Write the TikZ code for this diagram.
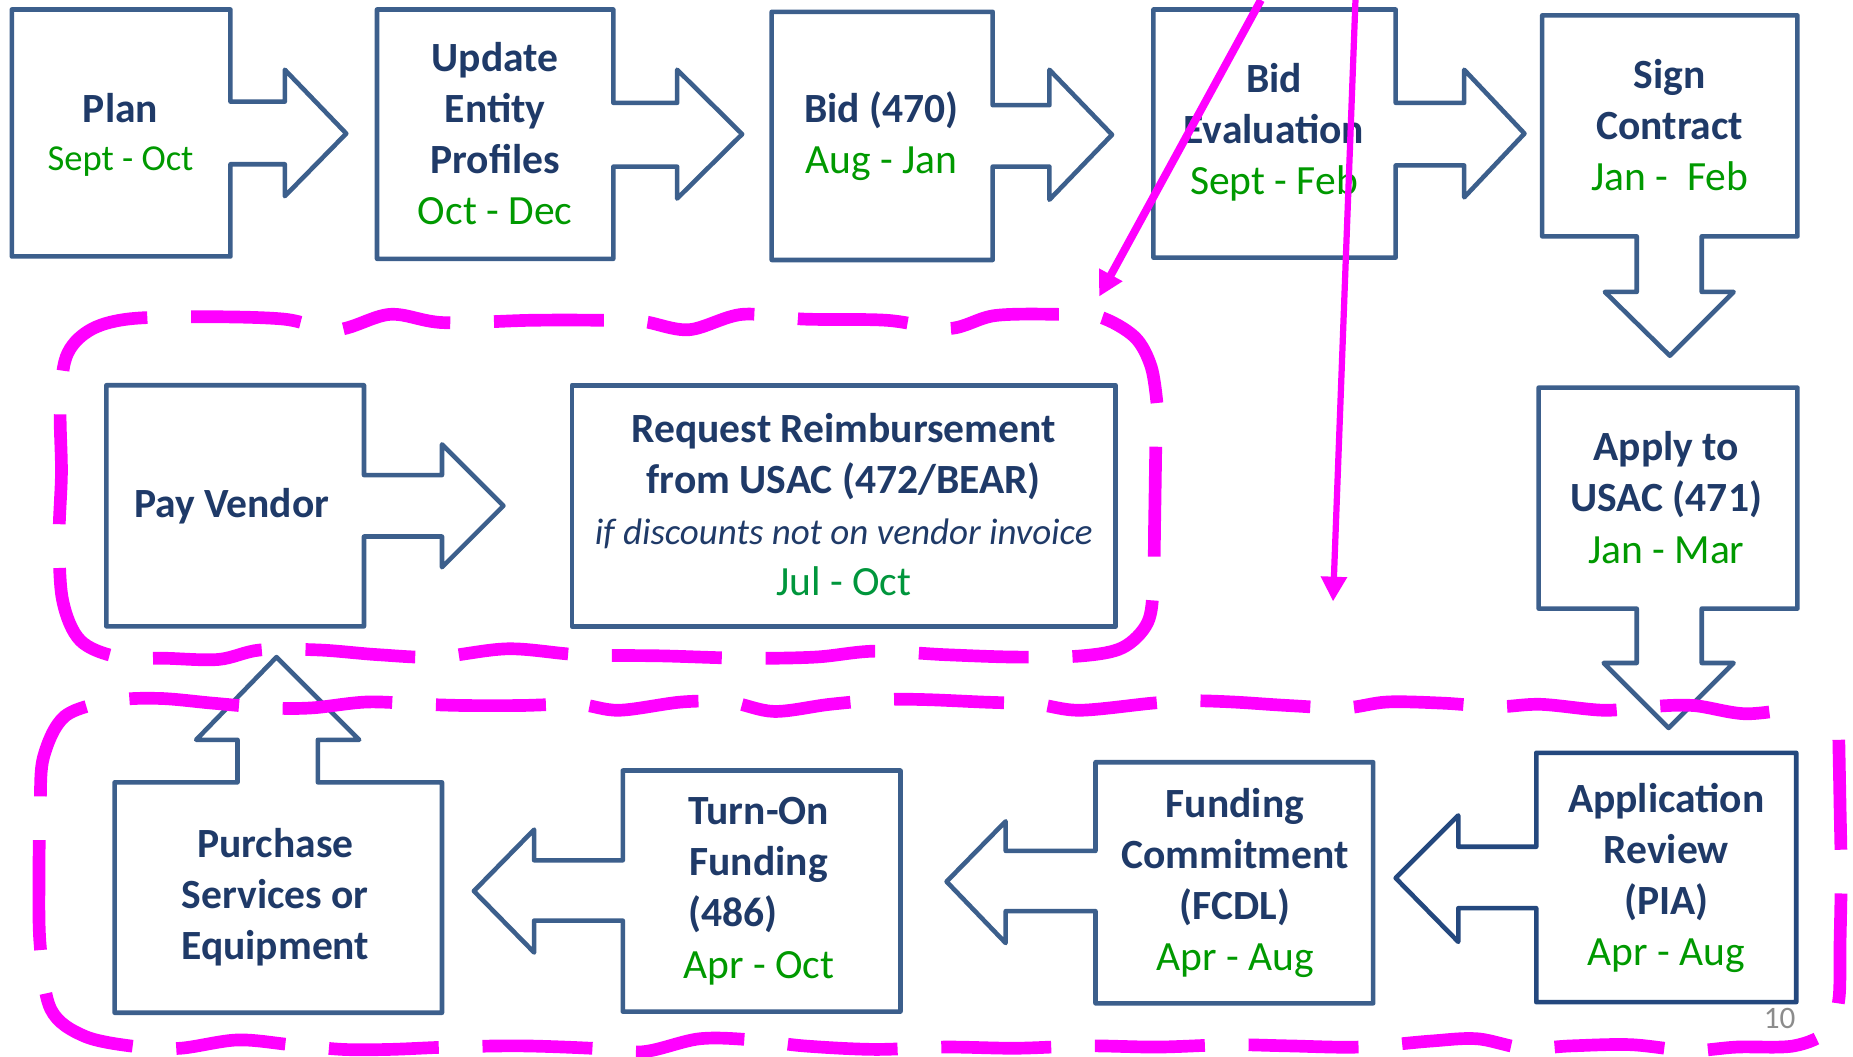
\documentclass[tikz,border=0pt]{standalone}
\usepackage{fontspec}
\setmainfont{Carlito}
\usetikzlibrary{arrows.meta}
\definecolor{boxblue}{HTML}{3C5F8C}
\definecolor{appblue}{HTML}{24487E}
\definecolor{txtblue}{HTML}{1F3A68}
\definecolor{dtgreen}{HTML}{009900}
\definecolor{jgreen}{HTML}{00963C}
\definecolor{mag}{HTML}{FF00FF}
\definecolor{pgray}{HTML}{8C8C8C}
\tikzset{
 shapeline/.style={draw=boxblue, line width=1.1pt, line join=round},
 ttl/.style={text=txtblue, font=\fontsize{10}{12.3}\selectfont\bfseries, align=center, inner sep=0pt},
 dashloop/.style={draw=mag, line width=3.05pt, dash pattern=on 0.93cm off 0.37cm},
 annot/.style={draw=mag, -{Triangle[length=0.21cm,width=0.21cm]}},
}
\newcommand{\dt}[1]{{\mdseries\color{dtgreen}#1}}
\begin{document}
\begin{tikzpicture}[x=0.01cm,y=-0.01cm]
\useasboundingbox (0,0) rectangle (1568,893.6);
\fill[white] (0,0) rectangle (1568,893.6);
% top row
\draw[shapeline] (10,8) -- (195,8) -- (195,86) -- (241,86) -- (241,59) -- (293,113) -- (241,166) -- (241,139) -- (195,139) -- (195,217) -- (10,217) -- cycle;
\draw[shapeline] (319,8) -- (519,8) -- (519,87) -- (573,87) -- (573,59) -- (628,113.5) -- (573,168) -- (573,141) -- (519,141) -- (519,219) -- (319,219) -- cycle;
\draw[shapeline] (653,10) -- (840,10) -- (840,89) -- (888,89) -- (888,59) -- (941,114) -- (888,169) -- (888,141) -- (840,141) -- (840,220) -- (653,220) -- cycle;
\draw[shapeline] (976,8) -- (1181,8) -- (1181,87) -- (1239,87) -- (1239,59) -- (1290,113) -- (1239,167) -- (1239,140) -- (1181,140) -- (1181,218) -- (976,218) -- cycle;
\draw[shapeline] (1305,13) -- (1521,13) -- (1521,200) -- (1440,200) -- (1440,247) -- (1467,247) -- (1413,301) -- (1358,247) -- (1385,247) -- (1385,200) -- (1305,200) -- cycle;
% middle row
\draw[shapeline] (90,326) -- (308,326) -- (308,402) -- (374,402) -- (374,376) -- (426,428) -- (374,480) -- (374,454) -- (308,454) -- (308,530) -- (90,530) -- cycle;
\draw[shapeline] (484,326) rectangle (944,530);
\draw[shapeline] (1302,328) -- (1521,328) -- (1521,515) -- (1440,515) -- (1440,561) -- (1467,561) -- (1412,616) -- (1357,561) -- (1385,561) -- (1385,515) -- (1302,515) -- cycle;
% bottom row
\draw[shapeline, draw=appblue] (1300,637) -- (1520,637) -- (1520,848) -- (1300,848) -- (1300,768.5) -- (1234,768.5) -- (1234,797) -- (1181,743) -- (1234,690) -- (1234,716.5) -- (1300,716.5) -- cycle;
\draw[shapeline] (927,645) -- (1162,645) -- (1162,849) -- (927,849) -- (927,771) -- (851,771) -- (851,798) -- (801,746) -- (851,695) -- (851,720) -- (927,720) -- cycle;
\draw[shapeline] (527,652) -- (762,652) -- (762,856) -- (527,856) -- (527,779) -- (452,779) -- (452,806) -- (401,754) -- (452,702) -- (452,728) -- (527,728) -- cycle;
\draw[shapeline] (97,662) -- (201,662) -- (201,626) -- (166,626) -- (234,556) -- (304,626) -- (269,626) -- (269,662) -- (374,662) -- (374,857) -- (97,857) -- cycle;
% texts
\node[ttl, font=\fontsize{10}{11.7}\selectfont\bfseries] (plan) at (102,114) {Plan\\{\fontsize{8.8}{11.7}\selectfont\dt{Sept - Oct}}};
\node[ttl] (update) at (419,113) {Update\\Entity\\Profiles\\\dt{Oct - Dec}};
\node[ttl] (bid) at (746,115) {Bid (470)\\\dt{Aug - Jan}};
\node[ttl] (bideval) at (1078,112) {Bid\\Evaluation\\\dt{Sept - Feb}};
\node[ttl] (sign) at (1413,106) {Sign\\Contract\\\dt{Jan -\ \ Feb}};
\node[ttl] (pay) at (196,428) {Pay Vendor};
\node[ttl] (req) at (714,427) {Request Reimbursement\\from USAC (472/BEAR)\\{\fontsize{8.9}{12.3}\selectfont\mdseries\itshape if discounts not on vendor invoice}\\{\mdseries\color{jgreen}Jul - Oct}};
\node[ttl] (apply) at (1410,421) {Apply to\\USAC (471)\\\dt{Jan - Mar}};
\node[ttl] (purchase) at (233,759) {Purchase\\Services or\\Equipment};
\node[ttl] (turnon) at (642,754) {Turn-On\\Funding\\\makebox[3.4em][l]{(486)}\\\dt{Apr - Oct}};
\node[ttl] (fcdl) at (1045,747) {Funding\\Commitment\\(FCDL)\\\dt{Apr - Aug}};
\node[ttl] (pia) at (1410,743) {Application\\Review\\(PIA)\\\dt{Apr - Aug}};
\node[text=pgray, font=\fontsize{7.5}{9}\selectfont, inner sep=0pt] (pnum) at (1506,862) {10};
% dashed loops (hand-drawn look)
\draw[dashloop] plot[smooth, tension=0.55] coordinates {
 (978,378) (977,445) (976,495) (971,527) (950,548) (915,555)
 (860,556) (800,554) (740,551) (690,556) (630,557) (560,555) (490,554) (430,549)
 (370,556) (320,554) (270,550) (220,550) (185,558) (140,557) (100,556)
 (68,542) (53,508) (50,455) (52,400) (51,345) (56,302) (75,280) (108,270)
 (170,268) (240,270) (285,279) (330,266) (375,273) (450,271) (510,271)
 (544,272) (583,279) (628,266) (680,270) (750,271) (803,278) (842,267)
 (897,266) (930,268) (960,285) (974,310) (979,341)};
\draw[dashloop] plot[smooth, tension=0.55] coordinates {
 (1556,626) (1557,680) (1558,740) (1557,800) (1556,846) (1547,872) (1518,885)
 (1470,886) (1430,889) (1380,884) (1330,885) (1290,887) (1250,879) (1210,881)
 (1150,886) (1090,885) (1040,884) (980,886) (920,885) (860,887) (800,886)
 (740,888) (680,885) (637,880) (592,879) (544,890) (500,887) (440,885)
 (380,886) (330,888) (290,888) (246,884) (201,880) (153,887) (118,886)
 (72,877) (43,854) (34,800) (33,740) (34,680) (37,640) (55,606) (95,593)
 (135,591) (180,595) (228,599) (264,599) (311,594) (359,596) (394,597)
 (440,597) (489,596) (524,601) (577,594) (617,594) (655,602) (702,596)
 (748,592) (783,592) (830,594) (877,596) (914,601) (975,595) (1007,593)
 (1043,594) (1090,597) (1138,599) (1174,594) (1221,595) (1267,598)
 (1304,596) (1357,601) (1395,598) (1433,597) (1478,604) (1526,598)};
% annotation arrows
\coordinate (m1s) at (1067,0);
\coordinate (m1e) at (930,251);
\draw[annot, line width=1.9pt] (m1s) -- (m1e);
\coordinate (m2s) at (1147,0);
\coordinate (m2e) at (1128,509);
\draw[annot, line width=1.5pt] (m2s) -- (m2e);
\end{tikzpicture}
\end{document}
